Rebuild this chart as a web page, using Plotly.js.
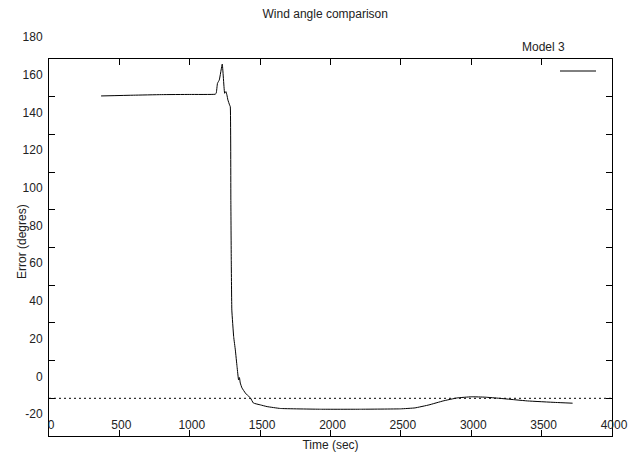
<!DOCTYPE html>
<html>
<head>
<meta charset="utf-8">
<script src="https://cdn.plot.ly/plotly-3.0.1.min.js"></script>
<style>html,body{margin:0;padding:0;background:#fff;}#chart{width:639px;height:453px;}</style>
</head>
<body>
<div id="chart"></div>
<script>
// Time (sec)
var timeSec = [370, 600, 800, 1000, 1180, 1188, 1197, 1210, 1231, 1248, 1257, 1264, 1271, 1283, 1288,
  1292, 1295, 1299, 1312, 1324, 1336, 1347, 1353, 1359, 1371, 1395, 1409, 1431, 1452, 1502, 1549,
  1644, 1929, 2213, 2498, 2600, 2700, 2800, 2900, 3000, 3100, 3200, 3400, 3600, 3720];
// Error (degres) - Model 3
var model3Error = [160.4, 160.8, 161.1, 161.2, 161.3, 161.8, 167.1, 168.9, 177.3, 161.8, 162.7, 160.9, 158.3, 155.6, 154.7,
  105, 73, 46.8, 32.7, 25.6, 16.8, 9.7, 11.0, 8.1, 5.5, 2.8, 1.7, 0.2, -2.5, -3.5, -4.4,
  -5.4, -5.8, -5.8, -5.6, -5.1, -3.5, -1.4, 0.2, 0.8, 0.6, 0.0, -1.4, -2.2, -2.6];
var yTicks = [-20, 0, 20, 40, 60, 80, 100, 120, 140, 160, 180];
var xTicks = [0, 500, 1000, 1500, 2000, 2500, 3000, 3500, 4000];
var seriesName = "Model 3";

var font = {family: "Liberation Sans, Arial, sans-serif", size: 12, color: "#222"};

var trace = {
  x: timeSec, y: model3Error, type: "scatter", mode: "lines", name: seriesName,
  line: {color: "#000", width: 1, shape: "spline", smoothing: 0.3}, showlegend: false
};

var layout = {
  width: 639, height: 453,
  margin: {l: 49, r: 27, t: 59, b: 17},
  paper_bgcolor: "#fff", plot_bgcolor: "#fff",
  font: font,
  title: {text: "Wind angle comparison", font: font, xref: "container", x: 0.509, xanchor: "center",
          yref: "container", y: 1 - 14/453, yanchor: "middle"},
  xaxis: {
    range: [0, 4000], tickvals: xTicks, ticktext: xTicks.map(String),
    ticks: "inside", ticklen: 6, tickcolor: "#000", mirror: "ticks",
    showline: true, linecolor: "#000", linewidth: 1, showgrid: false, zeroline: false,
    ticklabelstandoff: -22, ticklabelshift: 2,
    title: {text: "Time (sec)", font: font, standoff: 9}
  },
  yaxis: {
    range: [-20, 180], tickvals: yTicks, ticktext: yTicks.map(String),
    ticks: "inside", ticklen: 6, tickcolor: "#000", mirror: "ticks",
    showline: true, linecolor: "#000", linewidth: 1, showgrid: false, zeroline: false,
    ticklabelstandoff: 3, ticklabelshift: -22
  },
  shapes: [
    {type: "line", xref: "paper", x0: 0, x1: 1, yref: "y", y0: 0, y1: 0,
     line: {color: "#000", width: 1, dash: "2px,3px"}},
    {type: "line", xref: "paper", x0: (560-49)/563, x1: (596-49)/563, yref: "paper", y0: (436-71)/377, y1: (436-71)/377,
     line: {color: "#000", width: 1}}
  ],
  annotations: [
    {text: seriesName, xref: "paper", x: (567-49)/563, xanchor: "right", yref: "paper", y: (436-47.5)/377, yanchor: "middle",
     showarrow: false, font: font},
    {text: "Error (degres)", textangle: -90, xref: "paper", x: (22-49)/563, xanchor: "center",
     yref: "paper", y: (436-242)/377, yanchor: "middle", showarrow: false, font: font}
  ]
};

Plotly.newPlot("chart", [trace], layout, {displayModeBar: false, staticPlot: true});
</script>
</body>
</html>
